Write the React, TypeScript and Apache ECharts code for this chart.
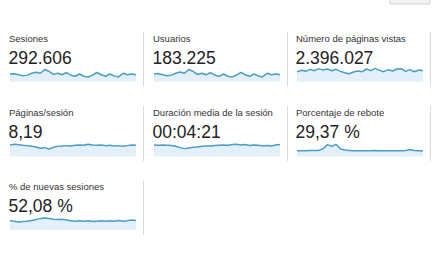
import React, { useEffect, useRef } from "react";
import * as echarts from "echarts";

// Daily categories for every sparkline
const days = [
  "01", "02", "03", "04", "05", "06", "07", "08", "09", "10",
  "11", "12", "13", "14", "15", "16", "17", "18", "19", "20",
  "21", "22", "23", "24", "25", "26", "27", "28", "29", "30",
];

// Metric titles and their headline totals
const titles = [
  "Sesiones",
  "Usuarios",
  "Número de páginas vistas",
  "Páginas/sesión",
  "Duración media de la sesión",
  "Porcentaje de rebote",
  "% de nuevas sesiones",
];
const totals = ["292.606", "183.225", "2.396.027", "8,19", "00:04:21", "29,37 %", "52,08 %"];

// Daily series
const sesiones = [9684, 9757, 9522, 9281, 9443, 9838, 10076, 9846, 10641, 10237, 9604, 9842, 9518, 9996, 9437, 9203, 9679, 9198, 9041, 9446, 10003, 9522, 9197, 9683, 9284, 9039, 9842, 9519, 9681, 9523];
const usuarios = [6090, 6140, 5990, 5850, 5940, 6180, 6330, 6170, 6650, 6420, 6030, 6170, 5980, 6270, 5930, 5790, 6080, 5800, 5710, 5950, 6280, 5990, 5790, 6080, 5840, 5700, 6180, 5990, 6080, 5990];
const paginasVistas = [77210, 80830, 78140, 83460, 79920, 85310, 81680, 84420, 79870, 83520, 78090, 74480, 71820, 76330, 79010, 77240, 84380, 79910, 86190, 80790, 77230, 82610, 79040, 84370, 85280, 78120, 82590, 77180, 81720, 79930];
const paginasSesion = [8.30, 8.39, 8.34, 8.25, 8.21, 8.12, 8.03, 7.85, 7.94, 7.76, 7.98, 8.12, 8.16, 8.21, 8.16, 8.25, 8.30, 8.25, 8.39, 8.30, 8.25, 8.30, 8.21, 8.25, 8.16, 8.21, 8.12, 8.21, 8.30, 8.25];
const duracion = [266, 262, 266, 262, 258, 250, 234, 222, 230, 238, 242, 250, 254, 254, 258, 262, 266, 262, 270, 274, 266, 270, 258, 266, 262, 254, 258, 254, 266, 270];
const rebote = [28.6, 28.6, 28.6, 29.05, 29.05, 29.05, 31.3, 36.7, 34.45, 37.15, 30.85, 29.5, 29.05, 28.6, 28.6, 28.6, 28.6, 28.6, 29.05, 28.6, 28.6, 28.6, 28.6, 28.6, 28.6, 29.05, 30.4, 29.05, 28.6, 28.15];
const nuevasSesiones = [52.0, 51.7, 51.1, 51.4, 51.7, 52.3, 52.9, 53.8, 54.1, 53.8, 53.2, 52.9, 53.2, 52.6, 52.0, 51.7, 52.0, 51.7, 52.0, 51.4, 51.7, 52.0, 51.7, 52.0, 51.7, 52.3, 51.7, 52.0, 52.6, 52.3];

const seriesData = [sesiones, usuarios, paginasVistas, paginasSesion, duracion, rebote, nuevasSesiones];

// Headroom above and below each sparkline, as a share of its own range
const pads: [number, number][] = [
  [0.27, 0.6],
  [0.27, 0.6],
  [0.15, 1.44],
  [0.38, 1.6],
  [0.4, 1.8],
  [0.27, 0.8],
  [0.5, 2.0],
];

const FONT = '"Liberation Sans", Arial, sans-serif';
const LINE = "#4a9cc9";
const FILL = "#e3f0f9";

const colX = [9, 153, 296];
const rowOff = [0, 74, 148];

export default function App() {
  const ref = useRef<HTMLDivElement>(null);

  useEffect(() => {
    document.body.style.margin = "0";
    const chart = echarts.init(ref.current!, undefined, { renderer: "svg" });

    const grids: any[] = [];
    const xAxes: any[] = [];
    const yAxes: any[] = [];
    const series: any[] = [];
    const graphic: any[] = [
      {
        type: "rect",
        shape: { x: 390, y: -5, width: 40, height: 9 },
        style: { fill: "#f2f2f2", stroke: "#d4d4d4", lineWidth: 1 },
      },
    ];

    titles.forEach((t, i) => {
      const col = i % 3;
      const row = Math.floor(i / 3);
      const x = colX[col];
      const off = rowOff[row];
      const gridTop = 67.5 + (row === 1 ? 75 : row === 2 ? 148.5 : 0);

      grids.push({ left: x + 1, top: gridTop, width: 126, height: 14 });
      xAxes.push({ type: "category", gridIndex: i, show: false, boundaryGap: false, data: days });
      const [pt, pb] = pads[i];
      yAxes.push({
        type: "value",
        gridIndex: i,
        show: false,
        min: (v: any) => v.min - (v.max - v.min) * pb,
        max: (v: any) => v.max + (v.max - v.min) * pt,
      });
      series.push({
        type: "line",
        xAxisIndex: i,
        yAxisIndex: i,
        data: seriesData[i],
        symbol: "none",
        silent: true,
        lineStyle: { color: LINE, width: 1.5 },
        areaStyle: { color: FILL, opacity: 1 },
      });

      graphic.push({
        type: "text",
        x,
        y: 38.7 + off,
        style: { text: t, font: `9.5px ${FONT}`, fill: "#333", verticalAlign: "middle" },
      });
      graphic.push({
        type: "text",
        x: x - 0.5,
        y: 57.9 + off,
        style: { text: totals[i], font: `17.5px ${FONT}`, fill: "#222", verticalAlign: "middle" },
      });
      graphic.push({
        type: "line",
        shape: { x1: x + 134.5, y1: 32 + off, x2: x + 134.5, y2: 87 + off },
        style: { stroke: "#dcdcdc", lineWidth: 1 },
      });
    });

    chart.setOption({
      animation: false,
      backgroundColor: "#ffffff",
      grid: grids,
      xAxis: xAxes,
      yAxis: yAxes,
      series,
      graphic,
    });

    return () => chart.dispose();
  }, []);

  return <div ref={ref} style={{ width: 439, height: 258 }} />;
}
